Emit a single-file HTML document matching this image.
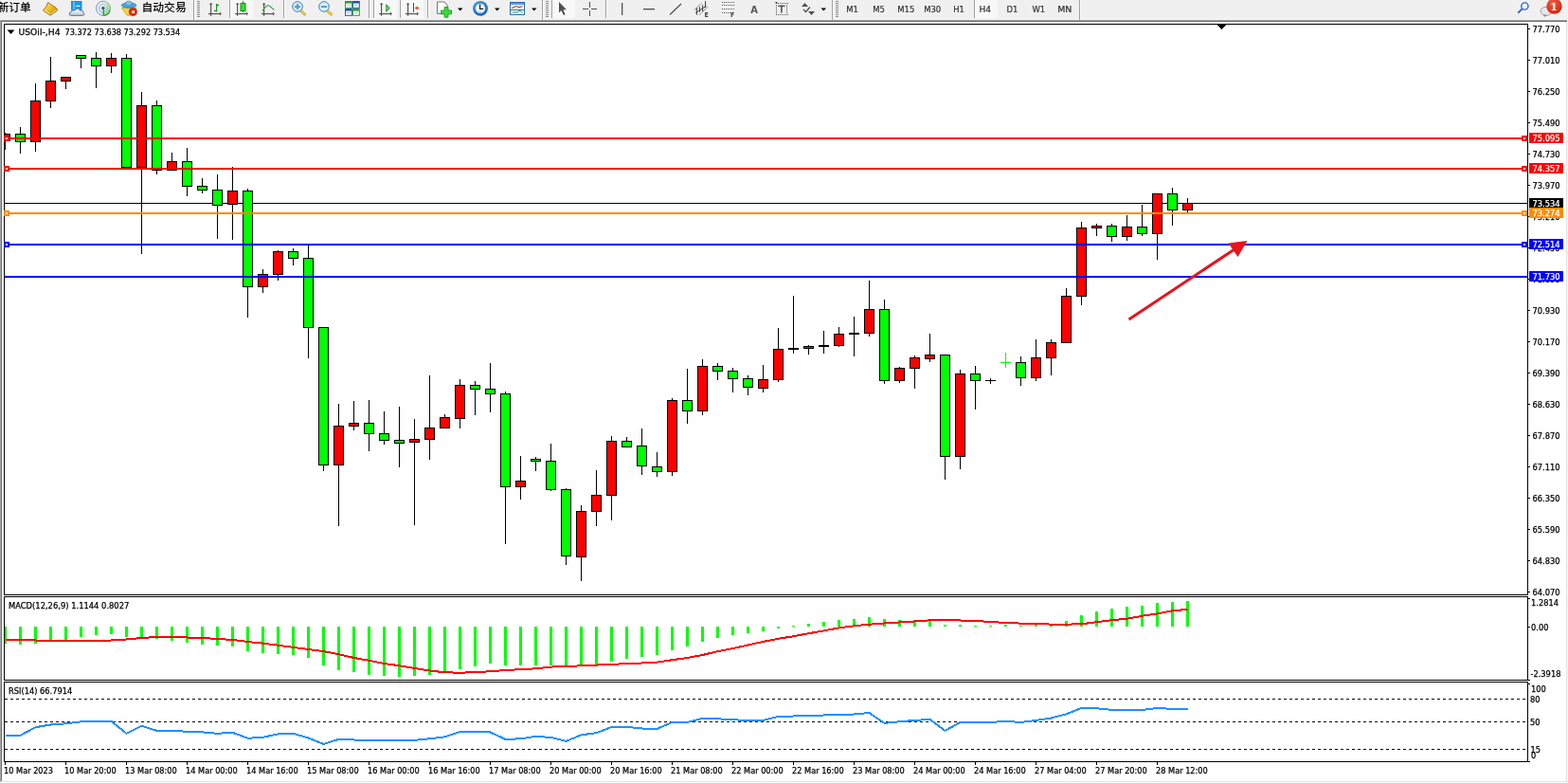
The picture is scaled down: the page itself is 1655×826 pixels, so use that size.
<!DOCTYPE html>
<html><head><meta charset="utf-8"><title>USOil H4</title>
<style>
html,body{margin:0;padding:0;background:#fff;overflow:hidden;}
svg{display:block;}
</style></head>
<body>
<svg width="1655" height="826" viewBox="0 0 1655 826">
<g shape-rendering="crispEdges">
<rect x="0" y="0" width="1655" height="826" fill="#ffffff"/>
<rect x="0" y="0" width="1655" height="21" fill="#f0f0f0"/>
<rect x="0" y="20" width="1654" height="1" fill="#f5f5f5"/>
<rect x="0" y="21" width="1654" height="1" fill="#a5a5a5"/>
<rect x="0" y="22" width="1654" height="1" fill="#6a6a6a"/>
<rect x="0" y="21" width="1" height="804" fill="#a8a8a8"/>
<rect x="1" y="22" width="1" height="802" fill="#6e6e6e"/>
<rect x="1653" y="23" width="1" height="802" fill="#e3e3e3"/>
<rect x="2" y="824" width="1652" height="1" fill="#e3e3e3"/>
<rect x="1654" y="21" width="1" height="805" fill="#f4f4f4"/>
<clipPath id="cm"><rect x="5" y="26" width="1607" height="601"/></clipPath>
<clipPath id="cmacd"><rect x="5" y="630" width="1607" height="87"/></clipPath>
<clipPath id="crsi"><rect x="5" y="720" width="1607" height="83"/></clipPath>
<g clip-path="url(#cm)">
<rect x="5" y="214" width="1607" height="1" fill="#000"/>
<rect x="5" y="140" width="1" height="18" fill="#000"/>
<rect x="0" y="141" width="11" height="8" fill="#000"/>
<rect x="1" y="142" width="9" height="6" fill="#ff0000"/>
<rect x="21" y="134" width="1" height="28" fill="#000"/>
<rect x="16" y="141" width="11" height="9" fill="#000"/>
<rect x="17" y="142" width="9" height="7" fill="#00ff00"/>
<rect x="37" y="88" width="1" height="72" fill="#000"/>
<rect x="32" y="106" width="11" height="44" fill="#000"/>
<rect x="33" y="107" width="9" height="42" fill="#ff0000"/>
<rect x="53" y="60" width="1" height="54" fill="#000"/>
<rect x="48" y="85" width="11" height="22" fill="#000"/>
<rect x="49" y="86" width="9" height="20" fill="#ff0000"/>
<rect x="69" y="81" width="1" height="13" fill="#000"/>
<rect x="64" y="81" width="11" height="5" fill="#000"/>
<rect x="65" y="82" width="9" height="3" fill="#ff0000"/>
<rect x="85" y="58" width="1" height="14" fill="#000"/>
<rect x="80" y="58" width="11" height="4" fill="#000"/>
<rect x="81" y="59" width="9" height="2" fill="#00ff00"/>
<rect x="101" y="55" width="1" height="38" fill="#000"/>
<rect x="96" y="61" width="11" height="9" fill="#000"/>
<rect x="97" y="62" width="9" height="7" fill="#00ff00"/>
<rect x="117" y="56" width="1" height="21" fill="#000"/>
<rect x="112" y="61" width="11" height="9" fill="#000"/>
<rect x="113" y="62" width="9" height="7" fill="#ff0000"/>
<rect x="133" y="57" width="1" height="120" fill="#000"/>
<rect x="128" y="61" width="11" height="116" fill="#000"/>
<rect x="129" y="62" width="9" height="114" fill="#00ff00"/>
<rect x="149" y="97" width="1" height="171" fill="#000"/>
<rect x="144" y="111" width="11" height="66" fill="#000"/>
<rect x="145" y="112" width="9" height="64" fill="#ff0000"/>
<rect x="165" y="106" width="1" height="78" fill="#000"/>
<rect x="160" y="111" width="11" height="69" fill="#000"/>
<rect x="161" y="112" width="9" height="67" fill="#00ff00"/>
<rect x="181" y="161" width="1" height="19" fill="#000"/>
<rect x="176" y="170" width="11" height="10" fill="#000"/>
<rect x="177" y="171" width="9" height="8" fill="#ff0000"/>
<rect x="197" y="156" width="1" height="51" fill="#000"/>
<rect x="192" y="170" width="11" height="27" fill="#000"/>
<rect x="193" y="171" width="9" height="25" fill="#00ff00"/>
<rect x="213" y="188" width="1" height="16" fill="#000"/>
<rect x="208" y="196" width="11" height="5" fill="#000"/>
<rect x="209" y="197" width="9" height="3" fill="#00ff00"/>
<rect x="229" y="184" width="1" height="68" fill="#000"/>
<rect x="224" y="200" width="11" height="17" fill="#000"/>
<rect x="225" y="201" width="9" height="15" fill="#00ff00"/>
<rect x="245" y="176" width="1" height="77" fill="#000"/>
<rect x="240" y="201" width="11" height="15" fill="#000"/>
<rect x="241" y="202" width="9" height="13" fill="#ff0000"/>
<rect x="261" y="199" width="1" height="136" fill="#000"/>
<rect x="256" y="201" width="11" height="102" fill="#000"/>
<rect x="257" y="202" width="9" height="100" fill="#00ff00"/>
<rect x="277" y="284" width="1" height="25" fill="#000"/>
<rect x="272" y="289" width="11" height="14" fill="#000"/>
<rect x="273" y="290" width="9" height="12" fill="#ff0000"/>
<rect x="293" y="264" width="1" height="32" fill="#000"/>
<rect x="288" y="265" width="11" height="25" fill="#000"/>
<rect x="289" y="266" width="9" height="23" fill="#ff0000"/>
<rect x="309" y="262" width="1" height="18" fill="#000"/>
<rect x="304" y="265" width="11" height="8" fill="#000"/>
<rect x="305" y="266" width="9" height="6" fill="#00ff00"/>
<rect x="325" y="258" width="1" height="120" fill="#000"/>
<rect x="320" y="272" width="11" height="74" fill="#000"/>
<rect x="321" y="273" width="9" height="72" fill="#00ff00"/>
<rect x="341" y="345" width="1" height="152" fill="#000"/>
<rect x="336" y="345" width="11" height="146" fill="#000"/>
<rect x="337" y="346" width="9" height="144" fill="#00ff00"/>
<rect x="357" y="426" width="1" height="129" fill="#000"/>
<rect x="352" y="449" width="11" height="42" fill="#000"/>
<rect x="353" y="450" width="9" height="40" fill="#ff0000"/>
<rect x="373" y="423" width="1" height="31" fill="#000"/>
<rect x="368" y="446" width="11" height="4" fill="#000"/>
<rect x="369" y="447" width="9" height="2" fill="#ff0000"/>
<rect x="389" y="422" width="1" height="54" fill="#000"/>
<rect x="384" y="446" width="11" height="12" fill="#000"/>
<rect x="385" y="447" width="9" height="10" fill="#00ff00"/>
<rect x="405" y="434" width="1" height="35" fill="#000"/>
<rect x="400" y="457" width="11" height="8" fill="#000"/>
<rect x="401" y="458" width="9" height="6" fill="#00ff00"/>
<rect x="421" y="429" width="1" height="64" fill="#000"/>
<rect x="416" y="464" width="11" height="4" fill="#000"/>
<rect x="417" y="465" width="9" height="2" fill="#00ff00"/>
<rect x="437" y="442" width="1" height="112" fill="#000"/>
<rect x="432" y="463" width="11" height="4" fill="#000"/>
<rect x="433" y="464" width="9" height="2" fill="#ff0000"/>
<rect x="453" y="396" width="1" height="89" fill="#000"/>
<rect x="448" y="451" width="11" height="13" fill="#000"/>
<rect x="449" y="452" width="9" height="11" fill="#ff0000"/>
<rect x="469" y="437" width="1" height="15" fill="#000"/>
<rect x="464" y="440" width="11" height="12" fill="#000"/>
<rect x="465" y="441" width="9" height="10" fill="#ff0000"/>
<rect x="485" y="400" width="1" height="52" fill="#000"/>
<rect x="480" y="406" width="11" height="36" fill="#000"/>
<rect x="481" y="407" width="9" height="34" fill="#ff0000"/>
<rect x="501" y="402" width="1" height="36" fill="#000"/>
<rect x="496" y="406" width="11" height="5" fill="#000"/>
<rect x="497" y="407" width="9" height="3" fill="#00ff00"/>
<rect x="517" y="383" width="1" height="52" fill="#000"/>
<rect x="512" y="410" width="11" height="6" fill="#000"/>
<rect x="513" y="411" width="9" height="4" fill="#00ff00"/>
<rect x="533" y="413" width="1" height="161" fill="#000"/>
<rect x="528" y="415" width="11" height="99" fill="#000"/>
<rect x="529" y="416" width="9" height="97" fill="#00ff00"/>
<rect x="549" y="481" width="1" height="46" fill="#000"/>
<rect x="544" y="507" width="11" height="7" fill="#000"/>
<rect x="545" y="508" width="9" height="5" fill="#ff0000"/>
<rect x="565" y="482" width="1" height="15" fill="#000"/>
<rect x="560" y="484" width="11" height="3" fill="#000"/>
<rect x="561" y="485" width="9" height="1" fill="#00ff00"/>
<rect x="581" y="468" width="1" height="50" fill="#000"/>
<rect x="576" y="486" width="11" height="31" fill="#000"/>
<rect x="577" y="487" width="9" height="29" fill="#00ff00"/>
<rect x="597" y="515" width="1" height="81" fill="#000"/>
<rect x="592" y="516" width="11" height="71" fill="#000"/>
<rect x="593" y="517" width="9" height="69" fill="#00ff00"/>
<rect x="613" y="533" width="1" height="80" fill="#000"/>
<rect x="608" y="539" width="11" height="49" fill="#000"/>
<rect x="609" y="540" width="9" height="47" fill="#ff0000"/>
<rect x="629" y="496" width="1" height="59" fill="#000"/>
<rect x="624" y="522" width="11" height="18" fill="#000"/>
<rect x="625" y="523" width="9" height="16" fill="#ff0000"/>
<rect x="645" y="460" width="1" height="89" fill="#000"/>
<rect x="640" y="465" width="11" height="58" fill="#000"/>
<rect x="641" y="466" width="9" height="56" fill="#ff0000"/>
<rect x="661" y="461" width="1" height="11" fill="#000"/>
<rect x="656" y="465" width="11" height="7" fill="#000"/>
<rect x="657" y="466" width="9" height="5" fill="#00ff00"/>
<rect x="677" y="452" width="1" height="49" fill="#000"/>
<rect x="672" y="470" width="11" height="22" fill="#000"/>
<rect x="673" y="471" width="9" height="20" fill="#00ff00"/>
<rect x="693" y="477" width="1" height="26" fill="#000"/>
<rect x="688" y="492" width="11" height="6" fill="#000"/>
<rect x="689" y="493" width="9" height="4" fill="#00ff00"/>
<rect x="709" y="420" width="1" height="82" fill="#000"/>
<rect x="704" y="422" width="11" height="76" fill="#000"/>
<rect x="705" y="423" width="9" height="74" fill="#ff0000"/>
<rect x="725" y="389" width="1" height="58" fill="#000"/>
<rect x="720" y="422" width="11" height="12" fill="#000"/>
<rect x="721" y="423" width="9" height="10" fill="#00ff00"/>
<rect x="741" y="379" width="1" height="59" fill="#000"/>
<rect x="736" y="386" width="11" height="48" fill="#000"/>
<rect x="737" y="387" width="9" height="46" fill="#ff0000"/>
<rect x="757" y="383" width="1" height="18" fill="#000"/>
<rect x="752" y="386" width="11" height="6" fill="#000"/>
<rect x="753" y="387" width="9" height="4" fill="#00ff00"/>
<rect x="773" y="388" width="1" height="26" fill="#000"/>
<rect x="768" y="391" width="11" height="9" fill="#000"/>
<rect x="769" y="392" width="9" height="7" fill="#00ff00"/>
<rect x="789" y="396" width="1" height="21" fill="#000"/>
<rect x="784" y="399" width="11" height="10" fill="#000"/>
<rect x="785" y="400" width="9" height="8" fill="#00ff00"/>
<rect x="805" y="385" width="1" height="29" fill="#000"/>
<rect x="800" y="400" width="11" height="10" fill="#000"/>
<rect x="801" y="401" width="9" height="8" fill="#ff0000"/>
<rect x="821" y="346" width="1" height="57" fill="#000"/>
<rect x="816" y="368" width="11" height="33" fill="#000"/>
<rect x="817" y="369" width="9" height="31" fill="#ff0000"/>
<rect x="837" y="312" width="1" height="61" fill="#000"/>
<rect x="832" y="367" width="11" height="2" fill="#000"/>
<rect x="853" y="364" width="1" height="10" fill="#000"/>
<rect x="848" y="365" width="11" height="3" fill="#000"/>
<rect x="849" y="366" width="9" height="1" fill="#ff0000"/>
<rect x="869" y="349" width="1" height="24" fill="#000"/>
<rect x="864" y="364" width="11" height="2" fill="#000"/>
<rect x="885" y="345" width="1" height="21" fill="#000"/>
<rect x="880" y="352" width="11" height="13" fill="#000"/>
<rect x="881" y="353" width="9" height="11" fill="#ff0000"/>
<rect x="901" y="334" width="1" height="42" fill="#000"/>
<rect x="896" y="351" width="11" height="2" fill="#000"/>
<rect x="917" y="296" width="1" height="59" fill="#000"/>
<rect x="912" y="326" width="11" height="26" fill="#000"/>
<rect x="913" y="327" width="9" height="24" fill="#ff0000"/>
<rect x="933" y="316" width="1" height="89" fill="#000"/>
<rect x="928" y="326" width="11" height="76" fill="#000"/>
<rect x="929" y="327" width="9" height="74" fill="#00ff00"/>
<rect x="949" y="387" width="1" height="17" fill="#000"/>
<rect x="944" y="388" width="11" height="14" fill="#000"/>
<rect x="945" y="389" width="9" height="12" fill="#ff0000"/>
<rect x="965" y="375" width="1" height="35" fill="#000"/>
<rect x="960" y="377" width="11" height="12" fill="#000"/>
<rect x="961" y="378" width="9" height="10" fill="#ff0000"/>
<rect x="981" y="352" width="1" height="30" fill="#000"/>
<rect x="976" y="374" width="11" height="5" fill="#000"/>
<rect x="977" y="375" width="9" height="3" fill="#ff0000"/>
<rect x="997" y="374" width="1" height="132" fill="#000"/>
<rect x="992" y="374" width="11" height="108" fill="#000"/>
<rect x="993" y="375" width="9" height="106" fill="#00ff00"/>
<rect x="1013" y="390" width="1" height="105" fill="#000"/>
<rect x="1008" y="394" width="11" height="88" fill="#000"/>
<rect x="1009" y="395" width="9" height="86" fill="#ff0000"/>
<rect x="1029" y="386" width="1" height="46" fill="#000"/>
<rect x="1024" y="394" width="11" height="8" fill="#000"/>
<rect x="1025" y="395" width="9" height="6" fill="#00ff00"/>
<rect x="1045" y="399" width="1" height="6" fill="#000"/>
<rect x="1040" y="401" width="11" height="1" fill="#000"/>
<rect x="1056" y="382" width="11" height="1" fill="#00ff00"/>
<rect x="1061" y="372" width="1" height="16" fill="#00ff00"/>
<rect x="1077" y="376" width="1" height="31" fill="#000"/>
<rect x="1072" y="382" width="11" height="17" fill="#000"/>
<rect x="1073" y="383" width="9" height="15" fill="#00ff00"/>
<rect x="1093" y="358" width="1" height="44" fill="#000"/>
<rect x="1088" y="377" width="11" height="22" fill="#000"/>
<rect x="1089" y="378" width="9" height="20" fill="#ff0000"/>
<rect x="1109" y="358" width="1" height="38" fill="#000"/>
<rect x="1104" y="361" width="11" height="17" fill="#000"/>
<rect x="1105" y="362" width="9" height="15" fill="#ff0000"/>
<rect x="1125" y="304" width="1" height="58" fill="#000"/>
<rect x="1120" y="312" width="11" height="50" fill="#000"/>
<rect x="1121" y="313" width="9" height="48" fill="#ff0000"/>
<rect x="1141" y="234" width="1" height="88" fill="#000"/>
<rect x="1136" y="240" width="11" height="73" fill="#000"/>
<rect x="1137" y="241" width="9" height="71" fill="#ff0000"/>
<rect x="1157" y="236" width="1" height="13" fill="#000"/>
<rect x="1152" y="238" width="11" height="3" fill="#000"/>
<rect x="1153" y="239" width="9" height="1" fill="#ff0000"/>
<rect x="1173" y="236" width="1" height="19" fill="#000"/>
<rect x="1168" y="238" width="11" height="12" fill="#000"/>
<rect x="1169" y="239" width="9" height="10" fill="#00ff00"/>
<rect x="1189" y="227" width="1" height="27" fill="#000"/>
<rect x="1184" y="239" width="11" height="11" fill="#000"/>
<rect x="1185" y="240" width="9" height="9" fill="#ff0000"/>
<rect x="1205" y="216" width="1" height="33" fill="#000"/>
<rect x="1200" y="239" width="11" height="8" fill="#000"/>
<rect x="1201" y="240" width="9" height="6" fill="#00ff00"/>
<rect x="1221" y="204" width="1" height="70" fill="#000"/>
<rect x="1216" y="204" width="11" height="43" fill="#000"/>
<rect x="1217" y="205" width="9" height="41" fill="#ff0000"/>
<rect x="1237" y="198" width="1" height="40" fill="#000"/>
<rect x="1232" y="204" width="11" height="18" fill="#000"/>
<rect x="1233" y="205" width="9" height="16" fill="#00ff00"/>
<rect x="1253" y="209" width="1" height="15" fill="#000"/>
<rect x="1248" y="214" width="11" height="8" fill="#000"/>
<rect x="1249" y="215" width="9" height="6" fill="#ff0000"/>
<rect x="5" y="145" width="1607" height="2" fill="#ff0000"/>
<rect x="4" y="143" width="6" height="6" fill="#ff0000"/>
<rect x="6" y="145" width="2" height="2" fill="#fff"/>
<rect x="1606" y="143" width="6" height="6" fill="#ff0000"/>
<rect x="1608" y="145" width="2" height="2" fill="#fff"/>
<rect x="5" y="177" width="1607" height="2" fill="#ff0000"/>
<rect x="4" y="175" width="6" height="6" fill="#ff0000"/>
<rect x="6" y="177" width="2" height="2" fill="#fff"/>
<rect x="1606" y="175" width="6" height="6" fill="#ff0000"/>
<rect x="1608" y="177" width="2" height="2" fill="#fff"/>
<rect x="5" y="224" width="1607" height="2" fill="#ff8c00"/>
<rect x="4" y="222" width="6" height="6" fill="#ff8c00"/>
<rect x="6" y="224" width="2" height="2" fill="#fff"/>
<rect x="1606" y="222" width="6" height="6" fill="#ff8c00"/>
<rect x="1608" y="224" width="2" height="2" fill="#fff"/>
<rect x="5" y="257" width="1607" height="2" fill="#0000ff"/>
<rect x="4" y="255" width="6" height="6" fill="#0000ff"/>
<rect x="6" y="257" width="2" height="2" fill="#fff"/>
<rect x="1606" y="255" width="6" height="6" fill="#0000ff"/>
<rect x="1608" y="257" width="2" height="2" fill="#fff"/>
<rect x="5" y="291" width="1607" height="2" fill="#0000ff"/>
<line x1="1191.5" y1="337" x2="1303" y2="263" stroke="#e8131b" stroke-width="3" shape-rendering="geometricPrecision"/>
<polygon points="1296.5,256.5 1316.5,254 1306.5,271" fill="#e8131b" shape-rendering="geometricPrecision"/>
</g>
<polygon points="1284.5,25.5 1294.5,25.5 1289.5,31.5" fill="#000"/>
<g clip-path="url(#cmacd)">
<rect x="4" y="661" width="3" height="18" fill="#00ff00"/>
<rect x="20" y="661" width="3" height="19" fill="#00ff00"/>
<rect x="36" y="661" width="3" height="18" fill="#00ff00"/>
<rect x="52" y="661" width="3" height="14" fill="#00ff00"/>
<rect x="68" y="661" width="3" height="14" fill="#00ff00"/>
<rect x="84" y="661" width="3" height="11" fill="#00ff00"/>
<rect x="100" y="661" width="3" height="9" fill="#00ff00"/>
<rect x="116" y="661" width="3" height="8" fill="#00ff00"/>
<rect x="132" y="661" width="3" height="11" fill="#00ff00"/>
<rect x="148" y="661" width="3" height="11" fill="#00ff00"/>
<rect x="164" y="661" width="3" height="13" fill="#00ff00"/>
<rect x="180" y="661" width="3" height="15" fill="#00ff00"/>
<rect x="196" y="661" width="3" height="17" fill="#00ff00"/>
<rect x="212" y="661" width="3" height="19" fill="#00ff00"/>
<rect x="228" y="661" width="3" height="20" fill="#00ff00"/>
<rect x="244" y="661" width="3" height="21" fill="#00ff00"/>
<rect x="260" y="661" width="3" height="26" fill="#00ff00"/>
<rect x="276" y="661" width="3" height="28" fill="#00ff00"/>
<rect x="292" y="661" width="3" height="29" fill="#00ff00"/>
<rect x="308" y="661" width="3" height="30" fill="#00ff00"/>
<rect x="324" y="661" width="3" height="33" fill="#00ff00"/>
<rect x="340" y="661" width="3" height="41" fill="#00ff00"/>
<rect x="356" y="661" width="3" height="46" fill="#00ff00"/>
<rect x="372" y="661" width="3" height="48" fill="#00ff00"/>
<rect x="388" y="661" width="3" height="51" fill="#00ff00"/>
<rect x="404" y="661" width="3" height="52" fill="#00ff00"/>
<rect x="420" y="661" width="3" height="53" fill="#00ff00"/>
<rect x="436" y="661" width="3" height="52" fill="#00ff00"/>
<rect x="452" y="661" width="3" height="51" fill="#00ff00"/>
<rect x="468" y="661" width="3" height="48" fill="#00ff00"/>
<rect x="484" y="661" width="3" height="45" fill="#00ff00"/>
<rect x="500" y="661" width="3" height="42" fill="#00ff00"/>
<rect x="516" y="661" width="3" height="39" fill="#00ff00"/>
<rect x="532" y="661" width="3" height="41" fill="#00ff00"/>
<rect x="548" y="661" width="3" height="41" fill="#00ff00"/>
<rect x="564" y="661" width="3" height="41" fill="#00ff00"/>
<rect x="580" y="661" width="3" height="41" fill="#00ff00"/>
<rect x="596" y="661" width="3" height="41" fill="#00ff00"/>
<rect x="612" y="661" width="3" height="42" fill="#00ff00"/>
<rect x="628" y="661" width="3" height="40" fill="#00ff00"/>
<rect x="644" y="661" width="3" height="37" fill="#00ff00"/>
<rect x="660" y="661" width="3" height="34" fill="#00ff00"/>
<rect x="676" y="661" width="3" height="32" fill="#00ff00"/>
<rect x="692" y="661" width="3" height="30" fill="#00ff00"/>
<rect x="708" y="661" width="3" height="25" fill="#00ff00"/>
<rect x="724" y="661" width="3" height="21" fill="#00ff00"/>
<rect x="740" y="661" width="3" height="16" fill="#00ff00"/>
<rect x="756" y="661" width="3" height="12" fill="#00ff00"/>
<rect x="772" y="661" width="3" height="9" fill="#00ff00"/>
<rect x="788" y="661" width="3" height="7" fill="#00ff00"/>
<rect x="804" y="661" width="3" height="5" fill="#00ff00"/>
<rect x="820" y="661" width="3" height="2" fill="#00ff00"/>
<rect x="836" y="660" width="3" height="1" fill="#00ff00"/>
<rect x="852" y="658" width="3" height="3" fill="#00ff00"/>
<rect x="868" y="656" width="3" height="5" fill="#00ff00"/>
<rect x="884" y="654" width="3" height="7" fill="#00ff00"/>
<rect x="900" y="653" width="3" height="8" fill="#00ff00"/>
<rect x="916" y="651" width="3" height="10" fill="#00ff00"/>
<rect x="932" y="653" width="3" height="8" fill="#00ff00"/>
<rect x="948" y="654" width="3" height="7" fill="#00ff00"/>
<rect x="964" y="654" width="3" height="7" fill="#00ff00"/>
<rect x="980" y="655" width="3" height="6" fill="#00ff00"/>
<rect x="996" y="659" width="3" height="2" fill="#00ff00"/>
<rect x="1012" y="659" width="3" height="2" fill="#00ff00"/>
<rect x="1028" y="660" width="3" height="1" fill="#00ff00"/>
<rect x="1044" y="660" width="3" height="1" fill="#00ff00"/>
<rect x="1060" y="659" width="3" height="2" fill="#00ff00"/>
<rect x="1076" y="660" width="3" height="1" fill="#00ff00"/>
<rect x="1092" y="659" width="3" height="2" fill="#00ff00"/>
<rect x="1108" y="660" width="3" height="1" fill="#00ff00"/>
<rect x="1124" y="655" width="3" height="6" fill="#00ff00"/>
<rect x="1140" y="649" width="3" height="12" fill="#00ff00"/>
<rect x="1156" y="645" width="3" height="16" fill="#00ff00"/>
<rect x="1172" y="642" width="3" height="19" fill="#00ff00"/>
<rect x="1188" y="640" width="3" height="21" fill="#00ff00"/>
<rect x="1204" y="639" width="3" height="22" fill="#00ff00"/>
<rect x="1220" y="636" width="3" height="25" fill="#00ff00"/>
<rect x="1236" y="635" width="3" height="26" fill="#00ff00"/>
<rect x="1252" y="634" width="3" height="27" fill="#00ff00"/>
<polyline points="5.5,675 21.5,675 37.5,675.5 53.5,676 69.5,676 85.5,676 101.5,676 117.5,675.5 133.5,674.5 149.5,673 165.5,672 181.5,672 197.5,672.5 213.5,673 229.5,674 245.5,675 261.5,677 277.5,678.7 293.5,680.7 309.5,682.9 325.5,685 341.5,687.1 357.5,690.2 373.5,694 389.5,696.8 405.5,700 421.5,702.2 437.5,705 453.5,707.5 469.5,709.3 485.5,709.7 501.5,709.1 517.5,708.3 533.5,707 549.5,706.2 565.5,705.3 581.5,703.6 597.5,702.8 613.5,702.4 629.5,701.6 645.5,700.8 661.5,700.2 677.5,699.5 693.5,698.6 709.5,696.2 725.5,694 741.5,691 757.5,687.1 773.5,684.1 789.5,680.5 805.5,676.9 821.5,673.8 837.5,671.2 853.5,668.2 869.5,665.4 885.5,662.4 901.5,660.3 917.5,658.7 933.5,657.5 949.5,656.5 965.5,655.5 981.5,654.3 997.5,654 1013.5,654.5 1029.5,655 1045.5,656 1061.5,657 1077.5,657.6 1093.5,658 1109.5,658.6 1125.5,658.6 1141.5,658.3 1157.5,656.2 1173.5,654.2 1189.5,652.8 1205.5,649.8 1221.5,647.4 1237.5,644.3 1253.5,642.9" fill="none" stroke="#ff0000" stroke-width="2" stroke-linejoin="round"/>
</g>
<g clip-path="url(#crsi)">
<line x1="5" y1="737.5" x2="1612" y2="737.5" stroke="#000" stroke-width="1" stroke-dasharray="3,3"/>
<line x1="5" y1="761.5" x2="1612" y2="761.5" stroke="#000" stroke-width="1" stroke-dasharray="3,3"/>
<line x1="5" y1="790.5" x2="1612" y2="790.5" stroke="#000" stroke-width="1" stroke-dasharray="3,3"/>
<polyline points="5.5,775.8 21.5,775.8 37.5,767.2 53.5,764.5 69.5,763.3 85.5,761.3 101.5,760.9 117.5,760.9 133.5,773.8 149.5,765.8 165.5,770.8 181.5,770.8 197.5,771.8 213.5,772.4 229.5,773.8 245.5,772.8 261.5,778.8 277.5,777.8 293.5,774.4 309.5,773.8 325.5,778.5 341.5,784.9 357.5,779.9 373.5,780.5 389.5,780.9 405.5,780.9 421.5,780.9 437.5,780.9 453.5,779.3 469.5,777.3 485.5,772.1 501.5,771.9 517.5,772.5 533.5,779.9 549.5,779.3 565.5,776.9 581.5,777.9 597.5,781.9 613.5,775.3 629.5,773.2 645.5,766.9 661.5,766.9 677.5,768.5 693.5,768.9 709.5,761.9 725.5,761.9 741.5,757.9 757.5,758.3 773.5,759.3 789.5,759.9 805.5,759.9 821.5,755.9 837.5,755.5 853.5,755.3 869.5,754.5 885.5,754.3 901.5,753.5 917.5,752 933.5,762.9 949.5,761.3 965.5,759.9 981.5,758.9 997.5,770.9 1013.5,761.9 1029.5,761.9 1045.5,761.9 1061.5,760.9 1077.5,761.9 1093.5,759.9 1109.5,757.5 1125.5,753.3 1141.5,746.9 1157.5,747.3 1173.5,748.9 1189.5,748.9 1205.5,748.9 1221.5,746.9 1237.5,747.9 1253.5,747.9" fill="none" stroke="#1e90ff" stroke-width="2" stroke-linejoin="round"/>
</g>
<rect x="4" y="25" width="1609" height="1" fill="#000"/>
<rect x="4" y="627" width="1609" height="1" fill="#000"/>
<rect x="4" y="25" width="1" height="603" fill="#000"/>
<rect x="1612" y="25" width="1" height="603" fill="#000"/>
<rect x="4" y="629" width="1609" height="1" fill="#000"/>
<rect x="4" y="717" width="1609" height="1" fill="#000"/>
<rect x="4" y="629" width="1" height="89" fill="#000"/>
<rect x="1612" y="629" width="1" height="89" fill="#000"/>
<rect x="4" y="719" width="1609" height="1" fill="#000"/>
<rect x="4" y="803" width="1609" height="1" fill="#000"/>
<rect x="4" y="719" width="1" height="85" fill="#000"/>
<rect x="1612" y="719" width="1" height="85" fill="#000"/>
<rect x="4" y="143" width="6" height="6" fill="#ff0000"/>
<rect x="6" y="145" width="2" height="2" fill="#fff"/>
<rect x="4" y="175" width="6" height="6" fill="#ff0000"/>
<rect x="6" y="177" width="2" height="2" fill="#fff"/>
<rect x="4" y="222" width="6" height="6" fill="#ff8c00"/>
<rect x="6" y="224" width="2" height="2" fill="#fff"/>
<rect x="4" y="255" width="6" height="6" fill="#0000ff"/>
<rect x="6" y="257" width="2" height="2" fill="#fff"/>
<rect x="1613" y="30" width="2" height="1" fill="#000"/>
<rect x="1613" y="63" width="2" height="1" fill="#000"/>
<rect x="1613" y="96" width="2" height="1" fill="#000"/>
<rect x="1613" y="129" width="2" height="1" fill="#000"/>
<rect x="1613" y="162" width="2" height="1" fill="#000"/>
<rect x="1613" y="195" width="2" height="1" fill="#000"/>
<rect x="1613" y="228" width="2" height="1" fill="#000"/>
<rect x="1613" y="261" width="2" height="1" fill="#000"/>
<rect x="1613" y="294" width="2" height="1" fill="#000"/>
<rect x="1613" y="327" width="2" height="1" fill="#000"/>
<rect x="1613" y="360" width="2" height="1" fill="#000"/>
<rect x="1613" y="393" width="2" height="1" fill="#000"/>
<rect x="1613" y="426" width="2" height="1" fill="#000"/>
<rect x="1613" y="459" width="2" height="1" fill="#000"/>
<rect x="1613" y="492" width="2" height="1" fill="#000"/>
<rect x="1613" y="525" width="2" height="1" fill="#000"/>
<rect x="1613" y="558" width="2" height="1" fill="#000"/>
<rect x="1613" y="591" width="2" height="1" fill="#000"/>
<rect x="1613" y="624" width="2" height="1" fill="#000"/>
<rect x="5" y="804" width="1" height="3" fill="#000"/>
<rect x="69" y="804" width="1" height="3" fill="#000"/>
<rect x="133" y="804" width="1" height="3" fill="#000"/>
<rect x="197" y="804" width="1" height="3" fill="#000"/>
<rect x="261" y="804" width="1" height="3" fill="#000"/>
<rect x="325" y="804" width="1" height="3" fill="#000"/>
<rect x="389" y="804" width="1" height="3" fill="#000"/>
<rect x="453" y="804" width="1" height="3" fill="#000"/>
<rect x="517" y="804" width="1" height="3" fill="#000"/>
<rect x="581" y="804" width="1" height="3" fill="#000"/>
<rect x="645" y="804" width="1" height="3" fill="#000"/>
<rect x="709" y="804" width="1" height="3" fill="#000"/>
<rect x="773" y="804" width="1" height="3" fill="#000"/>
<rect x="837" y="804" width="1" height="3" fill="#000"/>
<rect x="901" y="804" width="1" height="3" fill="#000"/>
<rect x="965" y="804" width="1" height="3" fill="#000"/>
<rect x="1029" y="804" width="1" height="3" fill="#000"/>
<rect x="1093" y="804" width="1" height="3" fill="#000"/>
<rect x="1157" y="804" width="1" height="3" fill="#000"/>
<rect x="1221" y="804" width="1" height="3" fill="#000"/>
<rect x="1613" y="631" width="2" height="1" fill="#000"/>
<rect x="1613" y="661" width="2" height="1" fill="#000"/>
<rect x="1613" y="717" width="2" height="1" fill="#000"/>
<rect x="1613" y="721" width="2" height="1" fill="#000"/>
<rect x="1613" y="803" width="2" height="1" fill="#000"/>
<text x="1617.5" y="34" fill="#000" stroke="#000" stroke-width="0.25" font-size="9.2" font-family="'DejaVu Sans Condensed','DejaVu Sans','Liberation Sans',sans-serif" >77.770</text>
<text x="1617.5" y="67" fill="#000" stroke="#000" stroke-width="0.25" font-size="9.2" font-family="'DejaVu Sans Condensed','DejaVu Sans','Liberation Sans',sans-serif" >77.010</text>
<text x="1617.5" y="100" fill="#000" stroke="#000" stroke-width="0.25" font-size="9.2" font-family="'DejaVu Sans Condensed','DejaVu Sans','Liberation Sans',sans-serif" >76.250</text>
<text x="1617.5" y="133" fill="#000" stroke="#000" stroke-width="0.25" font-size="9.2" font-family="'DejaVu Sans Condensed','DejaVu Sans','Liberation Sans',sans-serif" >75.490</text>
<text x="1617.5" y="166" fill="#000" stroke="#000" stroke-width="0.25" font-size="9.2" font-family="'DejaVu Sans Condensed','DejaVu Sans','Liberation Sans',sans-serif" >74.730</text>
<text x="1617.5" y="199" fill="#000" stroke="#000" stroke-width="0.25" font-size="9.2" font-family="'DejaVu Sans Condensed','DejaVu Sans','Liberation Sans',sans-serif" >73.970</text>
<text x="1617.5" y="232" fill="#000" stroke="#000" stroke-width="0.25" font-size="9.2" font-family="'DejaVu Sans Condensed','DejaVu Sans','Liberation Sans',sans-serif" >73.210</text>
<text x="1617.5" y="265" fill="#000" stroke="#000" stroke-width="0.25" font-size="9.2" font-family="'DejaVu Sans Condensed','DejaVu Sans','Liberation Sans',sans-serif" >72.450</text>
<text x="1617.5" y="298" fill="#000" stroke="#000" stroke-width="0.25" font-size="9.2" font-family="'DejaVu Sans Condensed','DejaVu Sans','Liberation Sans',sans-serif" >71.690</text>
<text x="1617.5" y="331" fill="#000" stroke="#000" stroke-width="0.25" font-size="9.2" font-family="'DejaVu Sans Condensed','DejaVu Sans','Liberation Sans',sans-serif" >70.930</text>
<text x="1617.5" y="364" fill="#000" stroke="#000" stroke-width="0.25" font-size="9.2" font-family="'DejaVu Sans Condensed','DejaVu Sans','Liberation Sans',sans-serif" >70.170</text>
<text x="1617.5" y="397" fill="#000" stroke="#000" stroke-width="0.25" font-size="9.2" font-family="'DejaVu Sans Condensed','DejaVu Sans','Liberation Sans',sans-serif" >69.390</text>
<text x="1617.5" y="430" fill="#000" stroke="#000" stroke-width="0.25" font-size="9.2" font-family="'DejaVu Sans Condensed','DejaVu Sans','Liberation Sans',sans-serif" >68.630</text>
<text x="1617.5" y="463" fill="#000" stroke="#000" stroke-width="0.25" font-size="9.2" font-family="'DejaVu Sans Condensed','DejaVu Sans','Liberation Sans',sans-serif" >67.870</text>
<text x="1617.5" y="496" fill="#000" stroke="#000" stroke-width="0.25" font-size="9.2" font-family="'DejaVu Sans Condensed','DejaVu Sans','Liberation Sans',sans-serif" >67.110</text>
<text x="1617.5" y="529" fill="#000" stroke="#000" stroke-width="0.25" font-size="9.2" font-family="'DejaVu Sans Condensed','DejaVu Sans','Liberation Sans',sans-serif" >66.350</text>
<text x="1617.5" y="562" fill="#000" stroke="#000" stroke-width="0.25" font-size="9.2" font-family="'DejaVu Sans Condensed','DejaVu Sans','Liberation Sans',sans-serif" >65.590</text>
<text x="1617.5" y="595" fill="#000" stroke="#000" stroke-width="0.25" font-size="9.2" font-family="'DejaVu Sans Condensed','DejaVu Sans','Liberation Sans',sans-serif" >64.830</text>
<text x="1617.5" y="628" fill="#000" stroke="#000" stroke-width="0.25" font-size="9.2" font-family="'DejaVu Sans Condensed','DejaVu Sans','Liberation Sans',sans-serif" >64.070</text>
<text x="4.1" y="815.7" fill="#000" stroke="#000" stroke-width="0.25" font-size="9.1" font-family="'DejaVu Sans Condensed','DejaVu Sans','Liberation Sans',sans-serif" >10 Mar 2023</text>
<text x="68.1" y="815.7" fill="#000" stroke="#000" stroke-width="0.25" font-size="9.1" font-family="'DejaVu Sans Condensed','DejaVu Sans','Liberation Sans',sans-serif" >10 Mar 20:00</text>
<text x="132.1" y="815.7" fill="#000" stroke="#000" stroke-width="0.25" font-size="9.1" font-family="'DejaVu Sans Condensed','DejaVu Sans','Liberation Sans',sans-serif" >13 Mar 08:00</text>
<text x="196.1" y="815.7" fill="#000" stroke="#000" stroke-width="0.25" font-size="9.1" font-family="'DejaVu Sans Condensed','DejaVu Sans','Liberation Sans',sans-serif" >14 Mar 00:00</text>
<text x="260.1" y="815.7" fill="#000" stroke="#000" stroke-width="0.25" font-size="9.1" font-family="'DejaVu Sans Condensed','DejaVu Sans','Liberation Sans',sans-serif" >14 Mar 16:00</text>
<text x="324.1" y="815.7" fill="#000" stroke="#000" stroke-width="0.25" font-size="9.1" font-family="'DejaVu Sans Condensed','DejaVu Sans','Liberation Sans',sans-serif" >15 Mar 08:00</text>
<text x="388.1" y="815.7" fill="#000" stroke="#000" stroke-width="0.25" font-size="9.1" font-family="'DejaVu Sans Condensed','DejaVu Sans','Liberation Sans',sans-serif" >16 Mar 00:00</text>
<text x="452.1" y="815.7" fill="#000" stroke="#000" stroke-width="0.25" font-size="9.1" font-family="'DejaVu Sans Condensed','DejaVu Sans','Liberation Sans',sans-serif" >16 Mar 16:00</text>
<text x="516.1" y="815.7" fill="#000" stroke="#000" stroke-width="0.25" font-size="9.1" font-family="'DejaVu Sans Condensed','DejaVu Sans','Liberation Sans',sans-serif" >17 Mar 08:00</text>
<text x="580.1" y="815.7" fill="#000" stroke="#000" stroke-width="0.25" font-size="9.1" font-family="'DejaVu Sans Condensed','DejaVu Sans','Liberation Sans',sans-serif" >20 Mar 00:00</text>
<text x="644.1" y="815.7" fill="#000" stroke="#000" stroke-width="0.25" font-size="9.1" font-family="'DejaVu Sans Condensed','DejaVu Sans','Liberation Sans',sans-serif" >20 Mar 16:00</text>
<text x="708.1" y="815.7" fill="#000" stroke="#000" stroke-width="0.25" font-size="9.1" font-family="'DejaVu Sans Condensed','DejaVu Sans','Liberation Sans',sans-serif" >21 Mar 08:00</text>
<text x="772.1" y="815.7" fill="#000" stroke="#000" stroke-width="0.25" font-size="9.1" font-family="'DejaVu Sans Condensed','DejaVu Sans','Liberation Sans',sans-serif" >22 Mar 00:00</text>
<text x="836.1" y="815.7" fill="#000" stroke="#000" stroke-width="0.25" font-size="9.1" font-family="'DejaVu Sans Condensed','DejaVu Sans','Liberation Sans',sans-serif" >22 Mar 16:00</text>
<text x="900.1" y="815.7" fill="#000" stroke="#000" stroke-width="0.25" font-size="9.1" font-family="'DejaVu Sans Condensed','DejaVu Sans','Liberation Sans',sans-serif" >23 Mar 08:00</text>
<text x="964.1" y="815.7" fill="#000" stroke="#000" stroke-width="0.25" font-size="9.1" font-family="'DejaVu Sans Condensed','DejaVu Sans','Liberation Sans',sans-serif" >24 Mar 00:00</text>
<text x="1028.1" y="815.7" fill="#000" stroke="#000" stroke-width="0.25" font-size="9.1" font-family="'DejaVu Sans Condensed','DejaVu Sans','Liberation Sans',sans-serif" >24 Mar 16:00</text>
<text x="1092.1" y="815.7" fill="#000" stroke="#000" stroke-width="0.25" font-size="9.1" font-family="'DejaVu Sans Condensed','DejaVu Sans','Liberation Sans',sans-serif" >27 Mar 04:00</text>
<text x="1156.1" y="815.7" fill="#000" stroke="#000" stroke-width="0.25" font-size="9.1" font-family="'DejaVu Sans Condensed','DejaVu Sans','Liberation Sans',sans-serif" >27 Mar 20:00</text>
<text x="1220.1" y="815.7" fill="#000" stroke="#000" stroke-width="0.25" font-size="9.1" font-family="'DejaVu Sans Condensed','DejaVu Sans','Liberation Sans',sans-serif" >28 Mar 12:00</text>
<text x="1616" y="639" fill="#000" stroke="#000" stroke-width="0.25" font-size="9.2" font-family="'DejaVu Sans Condensed','DejaVu Sans','Liberation Sans',sans-serif" >1.2814</text>
<text x="1616" y="665" fill="#000" stroke="#000" stroke-width="0.25" font-size="9.2" font-family="'DejaVu Sans Condensed','DejaVu Sans','Liberation Sans',sans-serif" >0.00</text>
<text x="1615.5" y="714" fill="#000" stroke="#000" stroke-width="0.25" font-size="9.2" font-family="'DejaVu Sans Condensed','DejaVu Sans','Liberation Sans',sans-serif" >-2.3918</text>
<text x="1616" y="730" fill="#000" stroke="#000" stroke-width="0.25" font-size="9.2" font-family="'DejaVu Sans Condensed','DejaVu Sans','Liberation Sans',sans-serif" >100</text>
<text x="1615" y="741" fill="#000" stroke="#000" stroke-width="0.25" font-size="9.2" font-family="'DejaVu Sans Condensed','DejaVu Sans','Liberation Sans',sans-serif" >80</text>
<text x="1615" y="765" fill="#000" stroke="#000" stroke-width="0.25" font-size="9.2" font-family="'DejaVu Sans Condensed','DejaVu Sans','Liberation Sans',sans-serif" >50</text>
<text x="1615.5" y="794" fill="#000" stroke="#000" stroke-width="0.25" font-size="9.2" font-family="'DejaVu Sans Condensed','DejaVu Sans','Liberation Sans',sans-serif" >15</text>
<text x="1616" y="800" fill="#000" stroke="#000" stroke-width="0.25" font-size="9.2" font-family="'DejaVu Sans Condensed','DejaVu Sans','Liberation Sans',sans-serif" >0</text>
<rect x="1614" y="140" width="36" height="11" fill="#ff0000"/>
<text x="1617.5" y="149" fill="#fff" stroke="#fff" stroke-width="0.25" font-size="9.2" font-family="'DejaVu Sans Condensed','DejaVu Sans','Liberation Sans',sans-serif">75.095</text>
<rect x="1614" y="172" width="36" height="11" fill="#ff0000"/>
<text x="1617.5" y="181" fill="#fff" stroke="#fff" stroke-width="0.25" font-size="9.2" font-family="'DejaVu Sans Condensed','DejaVu Sans','Liberation Sans',sans-serif">74.357</text>
<rect x="1614" y="209" width="36" height="11" fill="#000"/>
<text x="1617.5" y="218" fill="#fff" stroke="#fff" stroke-width="0.25" font-size="9.2" font-family="'DejaVu Sans Condensed','DejaVu Sans','Liberation Sans',sans-serif">73.534</text>
<rect x="1614" y="219" width="36" height="11" fill="#ff8c00"/>
<text x="1617.5" y="228" fill="#fff" stroke="#fff" stroke-width="0.25" font-size="9.2" font-family="'DejaVu Sans Condensed','DejaVu Sans','Liberation Sans',sans-serif">73.274</text>
<rect x="1614" y="252" width="36" height="11" fill="#0000ff"/>
<text x="1617.5" y="261" fill="#fff" stroke="#fff" stroke-width="0.25" font-size="9.2" font-family="'DejaVu Sans Condensed','DejaVu Sans','Liberation Sans',sans-serif">72.514</text>
<rect x="1614" y="286" width="36" height="11" fill="#0000ff"/>
<text x="1617.5" y="295" fill="#fff" stroke="#fff" stroke-width="0.25" font-size="9.2" font-family="'DejaVu Sans Condensed','DejaVu Sans','Liberation Sans',sans-serif">71.730</text>
<polygon points="7.6,31.6 15.4,31.6 11.5,36" fill="#000" shape-rendering="geometricPrecision"/>
<text x="19.5" y="37" fill="#000" stroke="#000" stroke-width="0.25" font-size="9.4" textLength="44" lengthAdjust="spacingAndGlyphs" font-family="'DejaVu Sans Condensed','DejaVu Sans','Liberation Sans',sans-serif">USOil-,H4</text>
<text x="68.5" y="37" fill="#000" stroke="#000" stroke-width="0.25" font-size="9.05" font-family="'DejaVu Sans Condensed','DejaVu Sans','Liberation Sans',sans-serif">73.372 73.638 73.292 73.534</text>
<text x="9" y="642" fill="#000" stroke="#000" stroke-width="0.25" font-size="9.3" font-family="'DejaVu Sans Condensed','DejaVu Sans','Liberation Sans',sans-serif">MACD(12,26,9) 1.1144 0.8027</text>
<text x="9" y="732" fill="#000" stroke="#000" stroke-width="0.25" font-size="9.2" font-family="'DejaVu Sans Condensed','DejaVu Sans','Liberation Sans',sans-serif">RSI(14) 66.7914</text>
</g>
<g>
<text x="-2.5" y="11.8" fill="#000" font-size="11.8" font-weight="500" font-family="'Liberation Sans','Noto Sans CJK SC',sans-serif">新订单</text>
<defs><linearGradient id="gold" x1="0" y1="0" x2="1" y2="1"><stop offset="0" stop-color="#fff0a0"/><stop offset="0.45" stop-color="#f0c020"/><stop offset="1" stop-color="#c08010"/></linearGradient><linearGradient id="cloudg" x1="0" y1="0" x2="0" y2="1"><stop offset="0" stop-color="#ffffff"/><stop offset="1" stop-color="#c0c8dc"/></linearGradient><radialGradient id="badge" cx="0.4" cy="0.3" r="0.8"><stop offset="0" stop-color="#f06040"/><stop offset="1" stop-color="#d01c04"/></radialGradient></defs>
<polygon points="50.6,2.6 59.6,8.6 60.6,11 53,16.2 45.4,11 49,6.8" fill="url(#gold)" stroke="#9a6410" stroke-width="0.9" stroke-linejoin="round"/>
<polyline points="46.5,10.6 53,14.8" fill="none" stroke="#fff0b0" stroke-width="0.9"/>
<polyline points="53.8,14.6 59.8,10.6" fill="none" stroke="#f0e0b0" stroke-width="0.9"/>
<rect x="75.5" y="1.5" width="10.5" height="9" fill="#149af2" stroke="#1a78d8" stroke-width="0.8"/>
<rect x="77.6" y="2" width="0.9" height="8" fill="#bfe6ff"/>
<rect x="80.2" y="5.8" width="4.3" height="1.1" fill="#ffffff"/>
<path d="M74.5,16.3 C72.6,16.2 72.6,12.9 75.2,12.7 C75.5,10.9 77.6,10.3 78.9,11.1 C79.6,8.6 83.6,8.4 84.4,11.1 C86.1,10.3 88.5,11.5 87.9,13.5 C89.4,14.1 89.1,16.3 87.5,16.3 Z" fill="url(#cloudg)" stroke="#4a5c8c" stroke-width="0.9"/>
<path d="M109,1.3 A7.5,7.5 0 0,0 109,16.3" fill="none" stroke="#4a7ad0" stroke-width="1" opacity="0.8"/>
<path d="M109,1.3 A7.5,7.5 0 0,1 109,16.3" fill="none" stroke="#5aa860" stroke-width="1" opacity="0.8"/>
<path d="M109,4.3 A4.5,4.5 0 0,0 109,13.3" fill="none" stroke="#6a90d8" stroke-width="1" opacity="0.7"/>
<path d="M109,4.3 A4.5,4.5 0 0,1 109,13.3" fill="none" stroke="#80c080" stroke-width="1" opacity="0.7"/>
<defs><linearGradient id="sigg" x1="0" y1="0" x2="1" y2="1"><stop offset="0" stop-color="#e8f4e8"/><stop offset="1" stop-color="#4aa84a"/></linearGradient></defs>
<path d="M109,9 L109,1.5 A7.5,7.5 0 0,1 109,16.5 Z" fill="url(#sigg)" opacity="0.55"/>
<path d="M109.5,16.2 A7.3,7.3 0 0,0 116,11" fill="none" stroke="#30a030" stroke-width="1.2"/>
<circle cx="108.8" cy="8.6" r="1.7" fill="#1a50c8"/>
<rect x="108.6" y="9" width="1.3" height="7.6" fill="#20a020"/>
<polygon points="128.5,8.3 144,8.3 141,13 136,16.5 134,16" fill="#f4d240" stroke="#c8a020" stroke-width="0.8" stroke-linejoin="round"/>
<ellipse cx="136" cy="5.6" rx="7.8" ry="2.6" fill="#4aa8dc" stroke="#2a7ab0" stroke-width="0.8"/>
<ellipse cx="135.8" cy="3.6" rx="3.4" ry="2.4" fill="#78c4ee" stroke="#2a7ab0" stroke-width="0.6"/>
<circle cx="140.4" cy="12.6" r="4.1" fill="#e02a10" stroke="#b01808" stroke-width="0.6"/>
<rect x="139.2" y="11.3" width="2.8" height="2.6" fill="#ffffff"/>
<text x="149.5" y="11.8" fill="#000" font-size="11.8" font-weight="500" font-family="'Liberation Sans','Noto Sans CJK SC',sans-serif">自动交易</text>
<rect x="204" y="0" width="1" height="21" fill="#a0a0a0"/>
<rect x="205" y="0" width="1" height="21" fill="#fbfbfb"/>
<rect x="208" y="1" width="3" height="1" fill="#8a8a8a"/>
<rect x="208" y="3" width="3" height="1" fill="#8a8a8a"/>
<rect x="208" y="5" width="3" height="1" fill="#8a8a8a"/>
<rect x="208" y="7" width="3" height="1" fill="#8a8a8a"/>
<rect x="208" y="9" width="3" height="1" fill="#8a8a8a"/>
<rect x="208" y="11" width="3" height="1" fill="#8a8a8a"/>
<rect x="208" y="13" width="3" height="1" fill="#8a8a8a"/>
<rect x="208" y="15" width="3" height="1" fill="#8a8a8a"/>
<rect x="208" y="17" width="3" height="1" fill="#8a8a8a"/>
<rect x="222" y="3.5" width="1.2" height="13.3" fill="#555"/>
<polygon points="220.7,4.8 224.5,4.8 222.6,3" fill="#555"/>
<rect x="220" y="14" width="13" height="1.2" fill="#555"/>
<polygon points="232,12.6 232,16.6 233.9,14.6" fill="#555"/>
<path d="M226,11.5 H228.6 M228.6,4 V12.6 M228.6,5.4 H231" fill="none" stroke="#108a10" stroke-width="1.1"/>
<rect x="242" y="0" width="1" height="19" fill="#a0a0a0"/>
<rect x="243" y="0" width="1" height="19" fill="#fbfbfb"/>
<rect x="243" y="0" width="24" height="19" fill="#f8f8f8"/>
<rect x="250" y="3.5" width="1.2" height="13.3" fill="#555"/>
<polygon points="248.7,4.8 252.5,4.8 250.6,3" fill="#555"/>
<rect x="248" y="14" width="13" height="1.2" fill="#555"/>
<polygon points="260,12.6 260,16.6 261.9,14.6" fill="#555"/>
<rect x="256" y="1" width="1" height="12" fill="#109010"/>
<rect x="254" y="3.5" width="5" height="8" fill="#30e030" stroke="#109010" stroke-width="1"/>
<rect x="278" y="3.5" width="1.2" height="13.3" fill="#555"/>
<polygon points="276.7,4.8 280.5,4.8 278.6,3" fill="#555"/>
<rect x="276" y="14" width="13" height="1.2" fill="#555"/>
<polygon points="288,12.6 288,16.6 289.9,14.6" fill="#555"/>
<path d="M277,11.5 C279.5,8 281.5,5.2 283.5,5.8 C285.5,6.4 287,9 289.5,10.2" fill="none" stroke="#2a9a2a" stroke-width="1.1"/>
<rect x="299" y="0" width="1" height="19" fill="#a0a0a0"/>
<rect x="300" y="0" width="1" height="19" fill="#fbfbfb"/>
<line x1="317" y1="11" x2="322.5" y2="16" stroke="#c89810" stroke-width="2.6"/>
<line x1="317" y1="11" x2="322.5" y2="16" stroke="#f0d860" stroke-width="1.2"/>
<circle cx="314" cy="7" r="5.3" fill="#d8eefa" stroke="#3a80c8" stroke-width="1"/>
<rect x="311" y="6.3" width="6" height="1.6" fill="#4a8ab8"/>
<rect x="313.2" y="4" width="1.6" height="6" fill="#4a8ab8"/>
<line x1="345" y1="11" x2="350.5" y2="16" stroke="#c89810" stroke-width="2.6"/>
<line x1="345" y1="11" x2="350.5" y2="16" stroke="#f0d860" stroke-width="1.2"/>
<circle cx="342" cy="7" r="5.3" fill="#d8eefa" stroke="#3a80c8" stroke-width="1"/>
<rect x="339" y="6.3" width="6" height="1.6" fill="#4a8ab8"/>
<rect x="364" y="1" width="7.8" height="7.8" fill="#30a020"/>
<rect x="365" y="3.6" width="5.8" height="4.2" fill="#ffffff"/>
<rect x="366" y="5.2" width="3.8" height="0.8" fill="#a0d090"/>
<rect x="372" y="1" width="7.8" height="7.8" fill="#2050d0"/>
<rect x="373" y="3.6" width="5.8" height="4.2" fill="#ffffff"/>
<rect x="374" y="5.2" width="3.8" height="0.8" fill="#90a8e8"/>
<rect x="364" y="9" width="7.8" height="7.8" fill="#2050d0"/>
<rect x="365" y="11.6" width="5.8" height="4.2" fill="#ffffff"/>
<rect x="366" y="13.2" width="3.8" height="0.8" fill="#90a8e8"/>
<rect x="372" y="9" width="7.8" height="7.8" fill="#30a020"/>
<rect x="373" y="11.6" width="5.8" height="4.2" fill="#ffffff"/>
<rect x="374" y="13.2" width="3.8" height="0.8" fill="#a0d090"/>
<rect x="389" y="0" width="1" height="19" fill="#a0a0a0"/>
<rect x="390" y="0" width="1" height="19" fill="#fbfbfb"/>
<rect x="394" y="0" width="1" height="19" fill="#a0a0a0"/>
<rect x="395" y="0" width="1" height="19" fill="#fbfbfb"/>
<rect x="395" y="0" width="24" height="19" fill="#f8f8f8"/>
<rect x="402" y="3.5" width="1.2" height="13.3" fill="#555"/>
<polygon points="400.7,4.8 404.5,4.8 402.6,3" fill="#555"/>
<rect x="400" y="14" width="13" height="1.2" fill="#555"/>
<polygon points="412,12.6 412,16.6 413.9,14.6" fill="#555"/>
<polygon points="407.8,5.3 407.8,11.7 410.9,8.5" fill="#c8f0c8" stroke="#109a10" stroke-width="1.1"/>
<rect x="422" y="0" width="1" height="19" fill="#a0a0a0"/>
<rect x="423" y="0" width="1" height="19" fill="#fbfbfb"/>
<rect x="423" y="0" width="24" height="19" fill="#f8f8f8"/>
<rect x="430" y="3.5" width="1.2" height="13.3" fill="#555"/>
<polygon points="428.7,4.8 432.5,4.8 430.6,3" fill="#555"/>
<rect x="428" y="14" width="13" height="1.2" fill="#555"/>
<polygon points="440,12.6 440,16.6 441.9,14.6" fill="#555"/>
<rect x="436" y="3" width="1" height="10" fill="#1060a0"/>
<polygon points="437.5,8.5 441,6.5 441,10.5" fill="#e05010"/>
<rect x="440" y="8" width="2.5" height="1" fill="#e05010"/>
<rect x="451" y="0" width="1" height="19" fill="#a0a0a0"/>
<rect x="452" y="0" width="1" height="19" fill="#fbfbfb"/>
<path d="M461.5,2 H469 L472,5 V14.5 H461.5 Z" fill="#ffffff" stroke="#777" stroke-width="1"/>
<path d="M469.2,7.6 H473 V11 H476.6 V14.8 H473 V18.2 H469.2 V14.8 H465.6 V11 H469.2 Z" fill="#38dc38" stroke="#129012" stroke-width="0.8"/>
<polygon points="483,8.5 488.5,8.5 485.75,11.5" fill="#000"/>
<defs><radialGradient id="clk" cx="0.4" cy="0.35" r="0.75"><stop offset="0" stop-color="#5ab0f0"/><stop offset="1" stop-color="#0a58b8"/></radialGradient></defs>
<circle cx="507" cy="8.8" r="7.9" fill="url(#clk)"/>
<circle cx="507" cy="8.8" r="5.3" fill="#f4f8fc" stroke="#2a70c0" stroke-width="0.5"/>
<path d="M506.6,4.6 V9.4 H510.2" fill="none" stroke="#202020" stroke-width="1.3"/>
<circle cx="507" cy="12.6" r="0.6" fill="#70a0e0"/>
<polygon points="522,8.5 527.5,8.5 524.75,11.5" fill="#000"/>
<rect x="538.5" y="2.5" width="15" height="13" fill="#ffffff" stroke="#2a6cc0" stroke-width="1"/>
<rect x="539" y="3" width="14" height="2" fill="#5a9ae0"/>
<rect x="539" y="10" width="14" height="1" fill="#2a6cc0"/>
<polyline points="540,8.5 543,7.5 545,6.5 547,7.5 549,7.5 551.5,6.5" fill="none" stroke="#b02010" stroke-width="1"/>
<polyline points="541,13.5 543,12.5 545,13.5 547,12 549,11.5 551.5,13.5" fill="none" stroke="#20a020" stroke-width="1"/>
<polygon points="561,8.5 566.5,8.5 563.75,11.5" fill="#000"/>
<rect x="572" y="0" width="1" height="21" fill="#a0a0a0"/>
<rect x="573" y="0" width="1" height="21" fill="#fbfbfb"/>
<rect x="576" y="1" width="3" height="1" fill="#8a8a8a"/>
<rect x="576" y="3" width="3" height="1" fill="#8a8a8a"/>
<rect x="576" y="5" width="3" height="1" fill="#8a8a8a"/>
<rect x="576" y="7" width="3" height="1" fill="#8a8a8a"/>
<rect x="576" y="9" width="3" height="1" fill="#8a8a8a"/>
<rect x="576" y="11" width="3" height="1" fill="#8a8a8a"/>
<rect x="576" y="13" width="3" height="1" fill="#8a8a8a"/>
<rect x="576" y="15" width="3" height="1" fill="#8a8a8a"/>
<rect x="576" y="17" width="3" height="1" fill="#8a8a8a"/>
<rect x="582" y="0" width="1" height="19" fill="#a0a0a0"/>
<rect x="583" y="0" width="1" height="19" fill="#fbfbfb"/>
<rect x="583" y="0" width="24" height="19" fill="#f8f8f8"/>
<path d="M590,2 V13.5 L592.5,11 L594.8,16 L596.6,15.2 L594.4,10.3 L598,10.3 Z" fill="#505050"/>
<rect x="615" y="9" width="6" height="1" fill="#505050"/><rect x="624" y="9" width="6" height="1" fill="#505050"/>
<rect x="622" y="2" width="1" height="6" fill="#505050"/><rect x="622" y="11" width="1" height="6" fill="#505050"/>
<rect x="639" y="0" width="1" height="19" fill="#a0a0a0"/>
<rect x="640" y="0" width="1" height="19" fill="#fbfbfb"/>
<rect x="656" y="3" width="1.3" height="13" fill="#505050"/>
<rect x="679" y="9" width="12" height="1.3" fill="#505050"/>
<line x1="707" y1="15.5" x2="719" y2="4" stroke="#505050" stroke-width="1.2"/>
<line x1="733" y1="10.5" x2="740.7" y2="3.2" stroke="#505050" stroke-width="0.9" stroke-dasharray="1.2,0.6"/>
<line x1="734.2" y1="13.8" x2="745.5" y2="6.2" stroke="#404040" stroke-width="1"/>
<line x1="738" y1="15.7" x2="747" y2="7.3" stroke="#505050" stroke-width="0.9" stroke-dasharray="1.2,0.6"/>
<line x1="735.4" y1="8.2" x2="735.4" y2="15.7" stroke="#404040" stroke-width="1"/>
<line x1="738.5" y1="7.3" x2="738.5" y2="12.6" stroke="#404040" stroke-width="1"/>
<line x1="741.6" y1="5.1" x2="741.6" y2="12.1" stroke="#404040" stroke-width="1"/>
<line x1="744.5" y1="1.2" x2="744.5" y2="8.2" stroke="#404040" stroke-width="1"/>
<text x="743.5" y="18" fill="#404040" font-size="7" font-weight="bold" font-family="'DejaVu Sans Condensed','DejaVu Sans','Liberation Sans',sans-serif">E</text>
<line x1="762" y1="2.5" x2="776" y2="2.5" stroke="#404040" stroke-width="0.9" stroke-dasharray="1,1"/>
<line x1="762" y1="5.5" x2="776" y2="5.5" stroke="#404040" stroke-width="0.9" stroke-dasharray="1,1"/>
<line x1="762" y1="9.5" x2="776" y2="9.5" stroke="#404040" stroke-width="0.9" stroke-dasharray="1,1"/>
<line x1="762" y1="13.5" x2="771" y2="13.5" stroke="#404040" stroke-width="0.9" stroke-dasharray="1,1"/>
<text x="771" y="18" fill="#404040" font-size="7" font-weight="bold" font-family="'DejaVu Sans Condensed','DejaVu Sans','Liberation Sans',sans-serif">F</text>
<text x="792.3" y="14" fill="#555" font-size="11" font-weight="bold" font-family="'DejaVu Sans Condensed','DejaVu Sans','Liberation Sans',sans-serif">A</text>
<rect x="819" y="3" width="1" height="1" fill="#505050"/><rect x="819" y="15" width="1" height="1" fill="#505050"/>
<rect x="821" y="3" width="1" height="1" fill="#505050"/><rect x="821" y="15" width="1" height="1" fill="#505050"/>
<rect x="823" y="3" width="1" height="1" fill="#505050"/><rect x="823" y="15" width="1" height="1" fill="#505050"/>
<rect x="825" y="3" width="1" height="1" fill="#505050"/><rect x="825" y="15" width="1" height="1" fill="#505050"/>
<rect x="827" y="3" width="1" height="1" fill="#505050"/><rect x="827" y="15" width="1" height="1" fill="#505050"/>
<rect x="829" y="3" width="1" height="1" fill="#505050"/><rect x="829" y="15" width="1" height="1" fill="#505050"/>
<rect x="831" y="3" width="1" height="1" fill="#505050"/><rect x="831" y="15" width="1" height="1" fill="#505050"/>
<rect x="819" y="5" width="1" height="1" fill="#505050"/><rect x="830" y="5" width="1" height="1" fill="#505050"/>
<rect x="819" y="7" width="1" height="1" fill="#505050"/><rect x="830" y="7" width="1" height="1" fill="#505050"/>
<rect x="819" y="9" width="1" height="1" fill="#505050"/><rect x="830" y="9" width="1" height="1" fill="#505050"/>
<rect x="819" y="11" width="1" height="1" fill="#505050"/><rect x="830" y="11" width="1" height="1" fill="#505050"/>
<rect x="819" y="13" width="1" height="1" fill="#505050"/><rect x="830" y="13" width="1" height="1" fill="#505050"/>
<rect x="818.5" y="2" width="2" height="1.5" fill="#404040"/>
<rect x="821.3" y="5.6" width="7.2" height="1.6" fill="#555"/><rect x="824.1" y="5.6" width="1.6" height="8" fill="#555"/>
<polygon points="846,7 849.5,3 853,7" fill="#505050"/>
<polyline points="848,10 850.5,12.5 855,7.5" fill="none" stroke="#505050" stroke-width="1.3"/>
<polygon points="853,12 860,12 856.5,16" fill="#505050"/>
<polygon points="866.5,8.5 872.0,8.5 869.25,11.5" fill="#000"/>
<rect x="878" y="0" width="1" height="21" fill="#a0a0a0"/>
<rect x="879" y="0" width="1" height="21" fill="#fbfbfb"/>
<rect x="882" y="1" width="3" height="1" fill="#8a8a8a"/>
<rect x="882" y="3" width="3" height="1" fill="#8a8a8a"/>
<rect x="882" y="5" width="3" height="1" fill="#8a8a8a"/>
<rect x="882" y="7" width="3" height="1" fill="#8a8a8a"/>
<rect x="882" y="9" width="3" height="1" fill="#8a8a8a"/>
<rect x="882" y="11" width="3" height="1" fill="#8a8a8a"/>
<rect x="882" y="13" width="3" height="1" fill="#8a8a8a"/>
<rect x="882" y="15" width="3" height="1" fill="#8a8a8a"/>
<rect x="882" y="17" width="3" height="1" fill="#8a8a8a"/>
<rect x="1028" y="0" width="1" height="19" fill="#a0a0a0"/>
<rect x="1029" y="0" width="24" height="19" fill="#f8f8f8"/>
<text x="893.3" y="13" fill="#333" stroke="#333" stroke-width="0.2" font-size="9.4" font-family="'DejaVu Sans Condensed','DejaVu Sans','Liberation Sans',sans-serif">M1</text>
<text x="921.2" y="13" fill="#333" stroke="#333" stroke-width="0.2" font-size="9.4" font-family="'DejaVu Sans Condensed','DejaVu Sans','Liberation Sans',sans-serif">M5</text>
<text x="947.3" y="13" fill="#333" stroke="#333" stroke-width="0.2" font-size="9.4" font-family="'DejaVu Sans Condensed','DejaVu Sans','Liberation Sans',sans-serif">M15</text>
<text x="975.2" y="13" fill="#333" stroke="#333" stroke-width="0.2" font-size="9.4" font-family="'DejaVu Sans Condensed','DejaVu Sans','Liberation Sans',sans-serif">M30</text>
<text x="1006.2" y="13" fill="#333" stroke="#333" stroke-width="0.2" font-size="9.4" font-family="'DejaVu Sans Condensed','DejaVu Sans','Liberation Sans',sans-serif">H1</text>
<text x="1033.4" y="13" fill="#333" stroke="#333" stroke-width="0.2" font-size="9.4" font-family="'DejaVu Sans Condensed','DejaVu Sans','Liberation Sans',sans-serif" textLength="12.6" lengthAdjust="spacingAndGlyphs">H4</text>
<text x="1062.4" y="13" fill="#333" stroke="#333" stroke-width="0.2" font-size="9.4" font-family="'DejaVu Sans Condensed','DejaVu Sans','Liberation Sans',sans-serif">D1</text>
<text x="1089.5" y="13" fill="#333" stroke="#333" stroke-width="0.2" font-size="9.4" font-family="'DejaVu Sans Condensed','DejaVu Sans','Liberation Sans',sans-serif">W1</text>
<text x="1116.2" y="13" fill="#333" stroke="#333" stroke-width="0.2" font-size="9.4" font-family="'DejaVu Sans Condensed','DejaVu Sans','Liberation Sans',sans-serif" textLength="15.2" lengthAdjust="spacingAndGlyphs">MN</text>
<rect x="1139" y="0" width="1" height="21" fill="#a0a0a0"/>
<rect x="1140" y="0" width="1" height="21" fill="#fbfbfb"/>
<circle cx="1609.4" cy="6.5" r="3.6" fill="#f4f6ff" stroke="#2a66d0" stroke-width="1.4"/>
<line x1="1606.6" y1="9.4" x2="1602.3" y2="13.6" stroke="#2a66d0" stroke-width="2"/>
<ellipse cx="1632" cy="11.8" rx="6" ry="4.5" fill="#e4e6ee" stroke="#a0a0a0" stroke-width="1"/>
<polygon points="1629,15 1630,18 1633,16" fill="#909090"/>
<circle cx="1640.5" cy="6.6" r="8.2" fill="url(#badge)"/>
<text x="1640" y="10.6" fill="#fff" font-size="11" font-weight="bold" font-family="'DejaVu Serif',serif" text-anchor="middle">1</text>
</g>
</svg>
</body></html>
